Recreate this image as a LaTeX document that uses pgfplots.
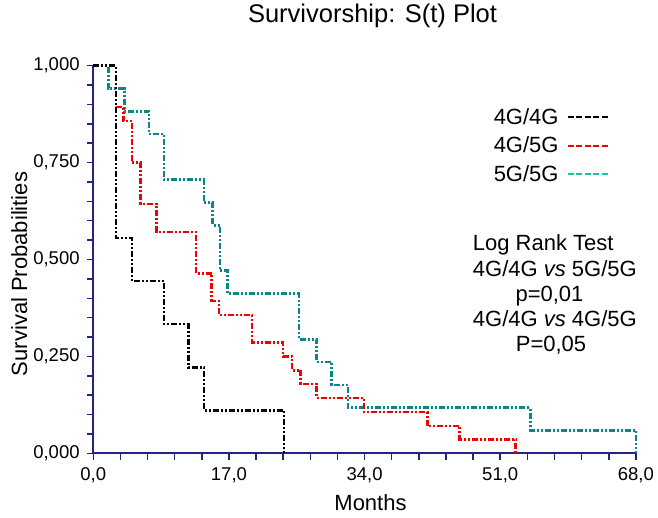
\documentclass[border=0pt]{standalone}
\usepackage{pgfplots}
\pgfplotsset{compat=1.18}
\usepackage{fontspec}
\setmainfont{Liberation Sans}
\definecolor{axiscol}{RGB}{35,35,140}
\definecolor{tealc}{RGB}{10,135,135}
\definecolor{legteal}{RGB}{20,200,160}
\definecolor{redc}{RGB}{240,0,0}
\begin{document}
\begin{tikzpicture}
\useasboundingbox (0,0) rectangle (658bp,518bp);
\begin{axis}[
  at={(93.3bp,64.7bp)}, anchor=south west,
  scale only axis, width=542.6bp, height=387.6bp,
  xmin=0, xmax=68, ymin=0, ymax=1,
  axis x line=bottom, axis y line=left,
  axis line style={-, draw=axiscol, line width=1.8bp},
  tick align=outside, major tick length=6.5bp, minor tick length=6.5bp,
  every tick/.style={draw=axiscol, line width=1.5bp},
  xtick={0,17,34,51,68}, xticklabels={{0,0},{17,0},{34,0},{51,0},{68,0}},
  minor x tick num=4,
  ytick={0,0.25,0.5,0.75,1}, yticklabels={{0,000},{0,250},{0,500},{0,750},{1,000}},
  minor y tick num=4,
  ticklabel style={font=\fontsize{18.5bp}{22bp}\selectfont, inner sep=0pt},
  xticklabel style={anchor=base, yshift=-21bp},
  yticklabel style={anchor=east, xshift=-7bp},
  clip=false,
  legend plot pos=right,
  legend cell align=right,
  legend image code/.code={\draw[#1] (0bp,0bp) -- (40bp,0bp);},
  legend style={draw=none, fill=none, at={(0.950,0.895)}, anchor=north east,
    font=\fontsize{22bp}{26bp}\selectfont, inner sep=0pt, row sep=7bp,
    column sep=6bp},
  every axis plot/.append style={line width=2.5bp,
    dash pattern=on 6bp off 2bp on 2bp off 2bp on 2bp off 2bp},
]
% 5G/5G
\addplot[const plot, color=tealc, forget plot] coordinates {
 (0,1) (1.88,0.941) (3.88,0.882) (6.98,0.824) (8.85,0.706) (13.9,0.647)
 (14.95,0.588) (15.87,0.471) (16.83,0.412) (25.8,0.294) (27.98,0.235)
 (29.86,0.176) (31.93,0.118) (54.78,0.059) (68,0)
};
% 4G/5G
\addplot[const plot, color=redc, forget plot] coordinates {
 (0,1) (2.84,0.893) (3.76,0.857) (4.88,0.75) (5.94,0.643) (7.94,0.571)
 (12.86,0.464) (14.83,0.393) (15.78,0.357) (19.91,0.286) (23.79,0.25)
 (24.92,0.214) (25.97,0.179) (27.98,0.143) (33.9,0.107) (41.88,0.071)
 (45.92,0.036) (52.94,0)
};
% 4G/4G
\addplot[const plot, color=black, forget plot] coordinates {
 (0,1) (2.84,0.556) (4.88,0.444) (8.85,0.333) (11.9,0.222) (13.9,0.111) (23.9,0)
};
\addlegendimage{black, line width=2bp, dash pattern=on 6bp off 2.5bp}
\addlegendentry{4G/4G}
\addlegendimage{redc, line width=2bp, dash pattern=on 6bp off 2.5bp}
\addlegendentry{4G/5G}
\addlegendimage{legteal, line width=2bp, dash pattern=on 6bp off 2.5bp}
\addlegendentry{5G/5G}
\end{axis}
\node[anchor=base, inner sep=0pt, font=\fontsize{25.5bp}{30bp}\selectfont] at (372.5bp,495.3bp) {Survivorship: S(t) Plot};
\node[anchor=base, inner sep=0pt, font=\fontsize{22bp}{26bp}\selectfont] at (370.5bp,7.3bp) {Months};
\node[anchor=base, rotate=90, inner sep=0pt, font=\fontsize{22bp}{26bp}\selectfont] at (27bp,244bp) {Survival Probabilities};
\begin{scope}[every node/.style={inner sep=0pt, font=\fontsize{22bp}{26bp}\selectfont}]
\node[anchor=base west] at (472.7bp,267bp) {Log Rank Test};
\node[anchor=base west] at (472.7bp,241bp) {4G/4G \textit{vs} 5G/5G};
\node[anchor=base] at (549.5bp,216bp) {p=0,01};
\node[anchor=base west] at (472.7bp,191bp) {4G/4G \textit{vs} 4G/5G};
\node[anchor=base] at (551bp,166bp) {P=0,05};
\end{scope}
\end{tikzpicture}
\end{document}
